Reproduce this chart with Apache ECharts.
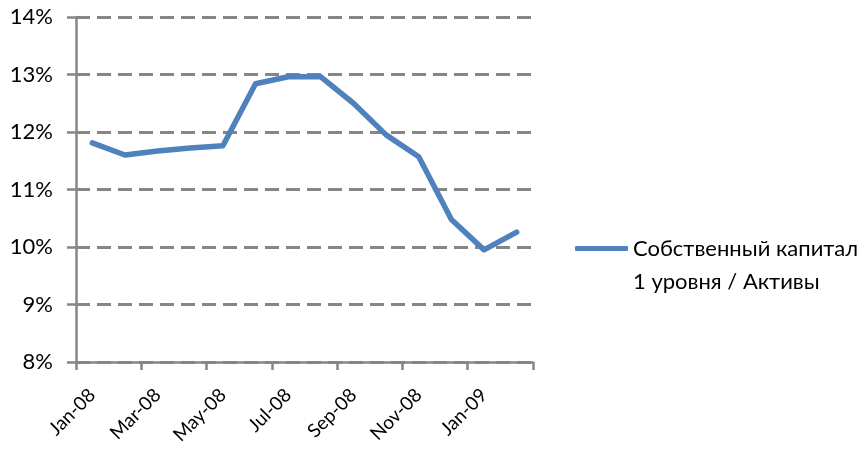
<!DOCTYPE html>
<html>
<head>
<meta charset="utf-8">
<script src="https://cdn.jsdelivr.net/npm/echarts@6/dist/echarts.min.js"></script>
<style>
  html, body { margin: 0; padding: 0; background: #ffffff; }
  #chart { width: 861px; height: 451px; }
</style>
</head>
<body>
<div id="chart"></div>
<script>
// Months shown on the category axis (every other one is labelled)
var months = ['Jan-08', 'Feb-08', 'Mar-08', 'Apr-08', 'May-08', 'Jun-08', 'Jul-08',
              'Aug-08', 'Sep-08', 'Oct-08', 'Nov-08', 'Dec-08', 'Jan-09', 'Feb-09'];
// Tier 1 capital to assets ratio, %
var tier1Ratio = [11.81, 11.60, 11.67, 11.72, 11.76, 12.84, 12.96,
                  12.96, 12.50, 11.95, 11.57, 10.48, 9.95, 10.26];
var seriesName = 'Собственный капитал\n1 уровня / Активы';
var yMin = 8, yMax = 14, yStep = 1;

var chart = echarts.init(document.getElementById('chart'));
var gray = '#868686';
var fontFamily = 'Lato, "Open Sans", sans-serif';

chart.setOption({
  animation: false,
  backgroundColor: '#ffffff',
  grid: { left: 76, right: 328, top: 17, bottom: 89, containLabel: false },
  xAxis: {
    type: 'category',
    data: months,
    boundaryGap: true,
    axisLine: { lineStyle: { color: gray, width: 2.5 } },
    axisTick: { show: true, interval: 1, length: 8, lineStyle: { color: gray, width: 2.5 } },
    axisLabel: {
      interval: 1,
      rotate: 45,
      margin: 30,
      color: '#000000',
      fontFamily: fontFamily,
      fontSize: 19
    },
    splitLine: { show: false }
  },
  yAxis: {
    type: 'value',
    min: yMin,
    max: yMax,
    interval: yStep,
    axisLine: { show: true, lineStyle: { color: gray, width: 2.5 } },
    axisTick: { show: true, length: 9, lineStyle: { color: gray, width: 2.5 } },
    axisLabel: {
      formatter: function (v) { return v + '%'; },
      color: '#000000',
      fontFamily: fontFamily,
      fontSize: 22,
      margin: 23
    },
    splitLine: {
      show: true,
      lineStyle: { color: gray, width: 3, type: [14, 7] }
    }
  },
  legend: {
    show: true,
    orient: 'vertical',
    left: 570,
    top: 194,
    icon: 'roundRect',
    itemWidth: 53,
    itemHeight: 5,
    itemGap: 5,
    data: [seriesName],
    // a blank leading line keeps the marker level with the first text line
    formatter: function (name) { return '\u00a0\n' + name; },
    textStyle: {
      color: '#000000',
      fontFamily: fontFamily,
      fontSize: 22,
      lineHeight: 33
    }
  },
  series: [{
    name: seriesName,
    type: 'line',
    data: tier1Ratio,
    symbol: 'none',
    lineStyle: { color: '#4f81bd', width: 5.5, join: 'round', cap: 'round' },
    itemStyle: { color: '#4f81bd' }
  }]
});
</script>
</body>
</html>
